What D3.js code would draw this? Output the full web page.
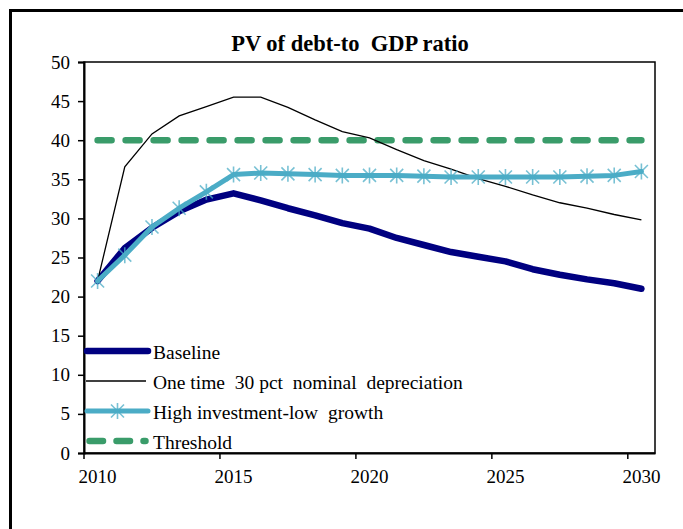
<!DOCTYPE html>
<html>
<head>
<meta charset="utf-8">
<script src="https://cdn.jsdelivr.net/npm/d3@7"></script>
<style>
  html, body { margin: 0; padding: 0; background: #fff; }
  svg { display: block; }
  text { font-family: "Liberation Serif", "Times New Roman", serif; fill: #000; white-space: pre; }
</style>
</head>
<body>
<script>
// PV of debt-to-GDP ratio, 2010-2030, under alternative scenarios
const years = d3.range(2010, 2031);
const baseline =     [22.0, 26.2, 28.8, 30.9, 32.4, 33.2, 32.3, 31.3, 30.4, 29.4, 28.7, 27.5, 26.6, 25.7, 25.1, 24.5, 23.5, 22.8, 22.2, 21.7, 21.0];
const depreciation = [22.0, 36.6, 40.8, 43.1, 44.3, 45.5, 45.5, 44.2, 42.6, 41.1, 40.3, 38.8, 37.4, 36.3, 35.1, 34.1, 33.0, 32.0, 31.3, 30.5, 29.8];
const highInvest =   [22.0, 25.3, 28.9, 31.3, 33.4, 35.6, 35.8, 35.7, 35.6, 35.5, 35.5, 35.5, 35.4, 35.3, 35.3, 35.3, 35.3, 35.3, 35.4, 35.5, 36.0];
const threshold =    [40, 40, 40, 40, 40, 40, 40, 40, 40, 40, 40, 40, 40, 40, 40, 40, 40, 40, 40, 40, 40];
const yTicks = [0, 5, 10, 15, 20, 25, 30, 35, 40, 45, 50];
const xTickYears = [2010, 2015, 2020, 2025, 2030];
const titleText = "PV of debt-to  GDP ratio";
const legendLabels = ["Baseline", "One time  30 pct  nominal  depreciation", "High investment-low  growth", "Threshold"];

const W = 683, H = 529;
const serif = "'Liberation Serif', 'Times New Roman', serif";
const svg = d3.select("body").append("svg").attr("width", W).attr("height", H);

// outer chart frame (runs off the right and bottom edges)
svg.append("rect")
  .attr("x", 10.5).attr("y", 10.5).attr("width", 700).attr("height", 560)
  .attr("fill", "none").attr("stroke", "#000").attr("stroke-width", 3);

const plot = { left: 84, right: 655, top: 62, bottom: 453 };

const x = d3.scaleBand().domain(years).range([plot.left, plot.right]).padding(0);
const bw = x.bandwidth();
const cx = d => x(d) + bw / 2;
const y = d3.scaleLinear().domain([0, 50]).range([plot.bottom, plot.top]);

// plot area box
svg.append("rect")
  .attr("x", plot.left).attr("y", plot.top)
  .attr("width", plot.right - plot.left).attr("height", plot.bottom - plot.top)
  .attr("fill", "none").attr("stroke", "#000").attr("stroke-width", 1.5);

// title
svg.append("text")
  .attr("x", 350).attr("y", 51)
  .attr("text-anchor", "middle")
  .style("font-family", serif)
  .style("font-weight", "bold").style("font-size", "22.5px")
  .text(titleText);

// y axis
const yAxis = svg.append("g")
  .attr("transform", `translate(${plot.left},0)`)
  .call(d3.axisLeft(y).tickValues(yTicks).tickSize(6).tickPadding(8).tickFormat(d3.format("d")));
yAxis.select(".domain").attr("stroke", "#000").attr("stroke-width", 2);
yAxis.selectAll(".tick line").attr("stroke", "#000").attr("stroke-width", 1.5);
yAxis.selectAll(".tick text").style("font-size", "19px").style("font-family", serif);

// x axis: labels centred in each category, ticks on category boundaries
const xAxis = svg.append("g")
  .attr("transform", `translate(0,${plot.bottom})`)
  .call(d3.axisBottom(x).tickValues(xTickYears).tickSize(6).tickPadding(11).tickSizeOuter(0));
xAxis.select(".domain").attr("stroke", "#000").attr("stroke-width", 2);
xAxis.selectAll(".tick line").attr("stroke", "#000").attr("stroke-width", 1.5)
  .attr("transform", `translate(${-bw / 2},0)`);
xAxis.selectAll(".tick text").style("font-size", "19px").style("font-family", serif);

const line = d3.line().x((d, i) => cx(years[i])).y(d => y(d));

const colors = { baseline: "#000080", dep: "#000000", high: "#4bacc6", thr: "#3a9c6a" };

// threshold
svg.append("path").datum(threshold)
  .attr("d", line).attr("fill", "none")
  .attr("stroke", colors.thr).attr("stroke-width", 6.5)
  .attr("stroke-linecap", "round").attr("stroke-dasharray", "14 14");

// baseline
svg.append("path").datum(baseline)
  .attr("d", line).attr("fill", "none")
  .attr("stroke", colors.baseline).attr("stroke-width", 6.5)
  .attr("stroke-linejoin", "round").attr("stroke-linecap", "round");

// depreciation shock
svg.append("path").datum(depreciation)
  .attr("d", line).attr("fill", "none")
  .attr("stroke", colors.dep).attr("stroke-width", 1.3);

// high investment - low growth
svg.append("path").datum(highInvest)
  .attr("d", line).attr("fill", "none")
  .attr("stroke", colors.high).attr("stroke-width", 5)
  .attr("stroke-linejoin", "round").attr("stroke-linecap", "round");

const star = "M0,-8L0,8M-6.5,-6.5L6.5,6.5M-6.5,6.5L6.5,-6.5";
svg.append("g").selectAll("path").data(highInvest).join("path")
  .attr("transform", (d, i) => `translate(${cx(years[i])},${y(d)})`)
  .attr("d", star)
  .attr("fill", "none").attr("stroke", colors.high).attr("stroke-width", 1.6).attr("stroke-opacity", 0.75);

// legend
const lg = svg.append("g");
const rowY = [351, 381, 411, 441];
const lx0 = 87, lx1 = 148, tx = 153;
lg.append("line").attr("x1", lx0).attr("x2", lx1).attr("y1", rowY[0]).attr("y2", rowY[0])
  .attr("stroke", colors.baseline).attr("stroke-width", 6.5).attr("stroke-linecap", "round");
lg.append("line").attr("x1", lx0 - 1).attr("x2", lx1 - 2).attr("y1", rowY[1]).attr("y2", rowY[1])
  .attr("stroke", colors.dep).attr("stroke-width", 1.3);
lg.append("line").attr("x1", lx0).attr("x2", lx1).attr("y1", rowY[2]).attr("y2", rowY[2])
  .attr("stroke", colors.high).attr("stroke-width", 5).attr("stroke-linecap", "round");
lg.append("path").attr("transform", `translate(${(lx0 + lx1) / 2},${rowY[2]})`).attr("d", star)
  .attr("fill", "none").attr("stroke", colors.high).attr("stroke-width", 1.6).attr("stroke-opacity", 0.75);
lg.append("line").attr("x1", 89.5).attr("x2", 145.5).attr("y1", rowY[3]).attr("y2", rowY[3])
  .attr("stroke", colors.thr).attr("stroke-width", 6.5).attr("stroke-linecap", "round")
  .attr("stroke-dasharray", "13.5 13.5");
lg.selectAll("text").data(legendLabels).join("text")
  .attr("x", tx).attr("y", (d, i) => rowY[i] + 8)
  .style("font-family", serif)
  .style("font-size", "19.5px")
  .text(d => d);
</script>
</body>
</html>
